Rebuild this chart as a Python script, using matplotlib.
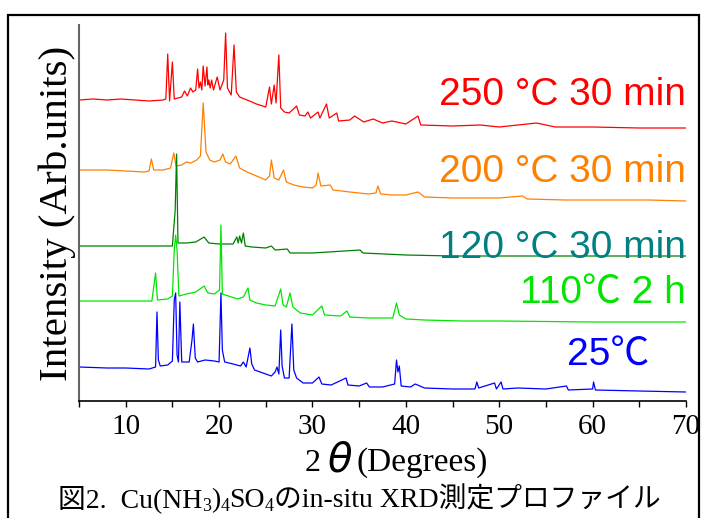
import matplotlib
matplotlib.use("Agg")
import matplotlib.pyplot as plt
from matplotlib.patches import Rectangle

# 2theta (deg) / intensity (arb.)
tt_250 = [5.0, 6.5, 8.0, 9.5, 11.0, 12.5, 14.0, 14.3, 14.5, 14.7, 15.0, 15.2, 16.0, 16.3, 16.6, 16.95,
          17.2, 17.5, 17.7, 17.85, 18.0, 18.15, 18.3, 18.5, 18.7, 18.8, 18.9, 19.05, 19.2, 19.4, 19.8,
          20.1, 20.5, 20.7, 20.9, 21.3, 21.6, 21.85, 22.2, 23.0, 24.0, 25.0, 25.4, 25.6, 25.9, 26.1,
          26.4, 26.6, 27.0, 27.5, 28.3, 28.6, 29.2, 29.5, 29.8, 30.6, 30.8, 31.5, 31.8, 32.6, 32.8,
          34.0, 34.5, 35.5, 36.5, 37.5, 38.5, 40.0, 41.3, 41.6, 45.0, 48.0, 50.0, 54.0, 56.0, 60.0,
          65.0, 70.0]
int_250 = [301, 302, 301, 302, 301, 300, 301, 302, 347, 300, 339, 302, 304, 310, 305, 313,
           309, 311, 332, 313, 319, 311, 335, 315, 334, 316, 321, 313, 321, 311, 324,
           311, 321, 368, 313, 306, 356, 309, 304, 301, 297, 294, 314, 297, 316, 298,
           346, 293, 289, 288, 295, 286, 285, 289, 283, 289, 283, 297, 283, 288, 280,
           281, 285, 279, 282, 278, 280, 277, 285, 276, 275, 276, 274, 278, 274, 274,
           273, 273]

tt_200 = [5.0, 8.0, 10.0, 12.0, 12.5, 12.75, 13.0, 14.0, 14.8, 15.15, 15.4, 16.0, 16.5, 17.0, 17.6,
          18.0, 18.3, 18.6, 19.0, 19.5, 20.1, 20.4, 20.7, 21.2, 21.8, 22.2, 23.0, 24.0, 25.0, 25.4,
          25.6, 25.9, 26.4, 26.9, 27.2, 28.0, 29.0, 30.0, 30.4, 30.6, 30.9, 31.9, 32.2, 34.0, 36.0,
          36.8, 37.0, 37.3, 38.5, 40.0, 41.3, 42.0, 45.0, 50.0, 52.5, 53.0, 57.0, 62.0, 66.0, 70.0]
int_200 = [231, 231, 230, 229, 230, 242, 231, 231, 233, 248, 235, 236, 239, 238, 241,
           245, 298, 249, 241, 239, 241, 247, 239, 237, 245, 233, 229, 225, 221, 225,
           241, 223, 221, 231, 219, 216, 214, 213, 216, 228, 215, 216, 211, 209, 207,
           208, 215, 207, 206, 206, 209, 204, 203, 203, 205, 202, 201, 201, 201, 200]

tt_120 = [5.0, 10.0, 14.0, 15.0, 15.3, 15.45, 15.6, 16.5, 17.5, 18.4, 18.9, 20.0, 21.5, 21.9, 22.05,
          22.2, 22.4, 22.6, 22.8, 23.5, 25.0, 25.6, 26.0, 27.3, 27.6, 30.0, 35.1, 35.4, 40.0, 45.0,
          50.0, 60.0, 70.0]
int_120 = [155, 155, 155, 155, 191, 247, 158, 158, 159, 164, 158, 157, 157, 164, 158,
           165, 158, 168, 155, 154, 153, 155, 151, 152, 148, 148, 151, 148, 146, 145,
           145, 145, 145]

tt_110 = [5.0, 10.0, 12.8, 13.2, 13.4, 14.5, 15.0, 15.2, 15.35, 15.5, 15.7, 16.5, 17.5, 18.4, 18.8,
          19.5, 20.05, 20.2, 20.35, 21.0, 22.0, 22.6, 23.1, 23.3, 24.0, 25.0, 26.0, 26.6, 26.85,
          27.2, 27.6, 27.9, 28.7, 30.0, 31.0, 31.3, 33.0, 33.7, 34.0, 36.0, 38.6, 39.0, 39.3, 40.0,
          42.0, 46.0, 50.0, 60.0, 70.0]
int_110 = [100, 100, 100, 128, 101, 102, 105, 151, 166, 151, 105, 107, 109, 115, 108,
           107, 111, 176, 107, 105, 102, 104, 113, 101, 98, 96, 95, 112, 96,
           94, 108, 94, 88, 86, 95, 86, 85, 90, 84, 83, 83, 98, 86, 82,
           81, 80, 80, 79, 79]

tt_25 = [5.0, 8.0, 10.0, 12.5, 13.2, 13.35, 13.5, 13.7, 14.5, 15.0, 15.2, 15.35, 15.5, 15.65, 15.8,
         16.0, 16.8, 17.1, 17.25, 17.45, 17.7, 18.5, 19.5, 20.0, 20.2, 20.35, 20.6, 21.5, 22.3,
         22.6, 22.9, 23.3, 23.5, 23.8, 25.0, 25.6, 26.0, 26.2, 26.4, 26.6, 26.75, 27.0, 27.5, 27.8,
         28.0, 28.3, 29.0, 30.0, 30.7, 31.0, 32.0, 33.6, 33.8, 35.0, 35.8, 36.1, 37.5, 38.8, 39.0,
         39.15, 39.3, 39.5, 40.5, 41.0, 42.0, 45.0, 47.4, 47.6, 47.8, 49.5, 49.7, 50.2, 50.4, 52.0,
         55.0, 57.2, 57.4, 60.0, 60.1, 60.3, 65.0, 70.0]
int_25 = [34, 33, 33, 32, 34, 89, 41, 35, 36, 40, 101, 108, 46, 39, 99,
          39, 39, 61, 77, 43, 39, 41, 40, 39, 108, 51, 39, 37, 35,
          39, 34, 53, 37, 31, 27, 25, 29, 34, 27, 71, 35, 23, 23, 77,
          31, 23, 18, 18, 24, 17, 16, 23, 16, 15, 18, 14, 14, 17, 41,
          29, 35, 15, 14, 17, 13, 12, 12, 19, 13, 18, 12, 19, 12, 13,
          12, 15, 11, 12, 19, 11, 10, 9]

series = [
    (tt_250, int_250, "#ff0000"),
    (tt_200, int_200, "#ff8000"),
    (tt_120, int_120, "#008000"),
    (tt_110, int_110, "#00e600"),
    (tt_25, int_25, "#0000ff"),
]

labels = ["250 °C 30 min", "200 °C 30 min", "120 °C 30 min", "110℃ 2 h", "25℃"]
label_x = [70, 70, 70, 70, 66.1]
label_y = [296, 219, 143, 98, 36]
label_colors = ["#ff0000", "#ff8000", "#008080", "#00e600", "#0000ff"]

serif = ["Liberation Serif", "Noto Sans CJK JP"]
sans = ["Liberation Sans", "Noto Sans CJK JP"]

W, H = 704, 518
fig = plt.figure(figsize=(W / 100, H / 100), dpi=100)
ax = fig.add_axes([79 / W, 1 - 401 / H, (686 - 79) / W, (401 - 25) / H])

for x, y, c in series:
    ax.plot(x, y, color=c, linewidth=0.9)

for s, x, y, c in zip(labels, label_x, label_y, label_colors):
    ax.text(x, y, s, color=c, fontsize=28, family=sans, ha="right", va="baseline")

ax.set_xlim(5, 70)
ax.set_ylim(0, 376)
ax.set_xticks(range(10, 71, 10))
ax.set_xticks(range(5, 71, 5), minor=True)
ax.set_yticks([])
ax.tick_params(axis="x", which="both", direction="out", length=4, width=1, pad=5)
for lab in ax.get_xticklabels():
    lab.set_family(serif)
    lab.set_fontsize(21)
ax.spines["top"].set_visible(False)
ax.spines["right"].set_visible(False)
ax.spines["left"].set_color("#666666")
ax.spines["left"].set_linewidth(1.5)
ax.spines["bottom"].set_linewidth(1.2)

ax.set_ylabel("Intensity (Arb.units)", family=serif, fontsize=29.5, labelpad=2)

# x label: 2 theta (Degrees)
fig.text(305 / W, 1 - 471 / H, "2", family=serif, fontsize=23, va="baseline")
fig.text(327 / W, 1 - 471 / H, "θ", family="DejaVu Sans", style="italic", fontsize=29, va="baseline")
fig.text(356 / W, 1 - 471 / H, "(Degrees)", family=serif, fontsize=24, va="baseline")

# caption, placed piece by piece for the subscripts
pieces = [("図2.  Cu(NH", 0), ("3", 4), (")", 0), ("4", 4), ("SO", 0), ("4", 4),
          ("のin-situ XRD測定プロファイル", 0)]
renderer = fig.canvas.get_renderer()
x_px = 58
base = 507
for s, drop in pieces:
    size = 13 if drop else 20
    t = fig.text(x_px / W, 1 - (base + drop) / H, s, family=serif, fontsize=size, va="baseline")
    x_px = t.get_window_extent(renderer).x1

fig.patches.append(Rectangle((8 / W, -0.1), (699 - 8) / W, 1.1 - 15 / H,
                             transform=fig.transFigure, fill=False, edgecolor="black",
                             linewidth=1.6))

fig.savefig("out.png", dpi=100)
